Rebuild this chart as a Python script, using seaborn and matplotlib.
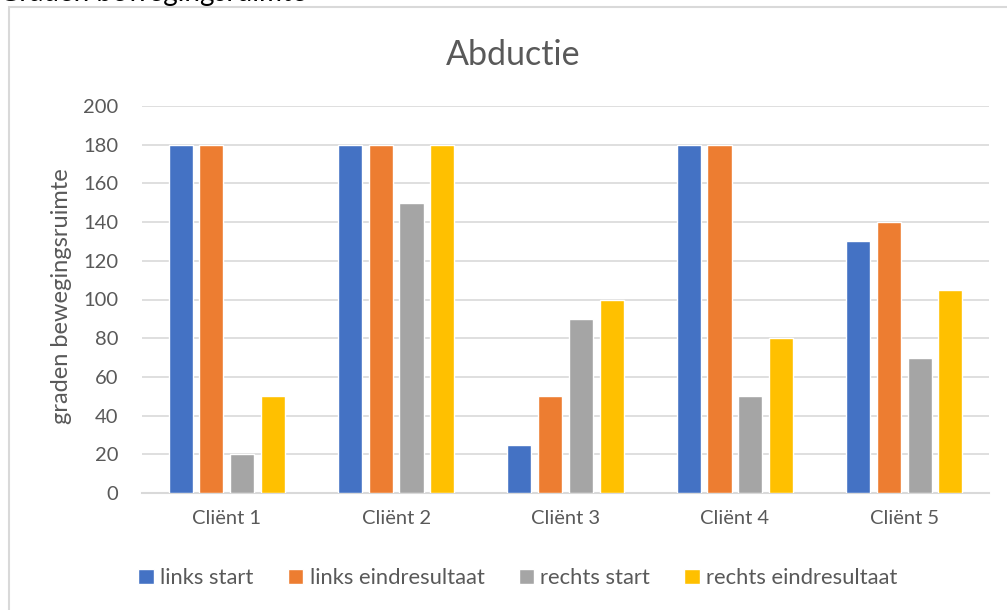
import matplotlib
matplotlib.use("Agg")
import matplotlib.pyplot as plt
import seaborn as sns
import pandas as pd
from matplotlib.patches import Rectangle

categories = ["Cliënt 1", "Cliënt 2", "Cliënt 3", "Cliënt 4", "Cliënt 5"]
series_names = ["links start", "links eindresultaat", "rechts start", "rechts eindresultaat"]
links_start = [180, 180, 25, 180, 130]
links_eind = [180, 180, 50, 180, 140]
rechts_start = [20, 150, 90, 50, 70]
rechts_eind = [50, 180, 100, 80, 105]
colors = ["#4472C4", "#ED7D31", "#A5A5A5", "#FFC000"]
yticks = [0, 20, 40, 60, 80, 100, 120, 140, 160, 180, 200]

rows = []
for name, vals in zip(series_names, [links_start, links_eind, rechts_start, rechts_eind]):
    for c, v in zip(categories, vals):
        rows.append({"client": c, "serie": name, "waarde": v})
df = pd.DataFrame(rows)

sns.set_theme(style="white")
plt.rcParams["font.family"] = ["Lato", "DejaVu Sans"]
txt = "#595959"

fig = plt.figure(figsize=(10.07, 6.10), dpi=100)
ax = fig.add_axes([142/1007, 117/610, 847/1007, 387/610])

sns.barplot(data=df, x="client", y="waarde", hue="serie", hue_order=series_names,
            order=categories, palette=colors, width=0.727, gap=0.22,
            saturation=1, ax=ax, legend=True, zorder=3)

ax.set_ylim(0, 200)
ax.set_yticks(yticks)
ax.set_xlim(-0.5, 4.5)
ax.grid(axis="y", color="#D9D9D9", linewidth=1.2, zorder=0)
ax.set_axisbelow(True)
for s in ["top", "right", "left"]:
    ax.spines[s].set_visible(False)
ax.spines["bottom"].set_color("#D9D9D9")
ax.spines["bottom"].set_linewidth(1.5)
ax.tick_params(axis="both", length=0, colors=txt, labelsize=14.5)
ax.tick_params(axis="x", pad=12)
ax.tick_params(axis="y", pad=17)
ax.set_xlabel("")
ax.set_ylabel("graden bewegingsruimte", color=txt, fontsize=17)
ax.yaxis.set_label_coords((62 - 142) / 847, (493 - 296) / 387)
ax.yaxis.label.set_va("center")

fig.text(513/1007, (610-55)/610, "Abductie", color=txt, fontsize=24.5,
         ha="center", va="center")

handles, labels = ax.get_legend_handles_labels()
ax.get_legend().remove()
fig.legend(handles, labels, loc="center", bbox_to_anchor=(518/1007, 32/610), ncol=4,
           frameon=False, fontsize=15.8, labelcolor=txt, handlelength=0.7, handleheight=0.7,
           handletextpad=0.3, columnspacing=1.55)

fig.patches.append(Rectangle((9/1007, -0.1), 1.2, (610-7)/610 + 0.1, transform=fig.transFigure,
                             fill=False, edgecolor="#D9D9D9", linewidth=1.5))
fig.text(-1/1007, 609.5/610, "Graden bewegingsruimte", color="black", fontsize=20,
         ha="left", va="baseline")

fig.savefig("out.png", dpi=100)
